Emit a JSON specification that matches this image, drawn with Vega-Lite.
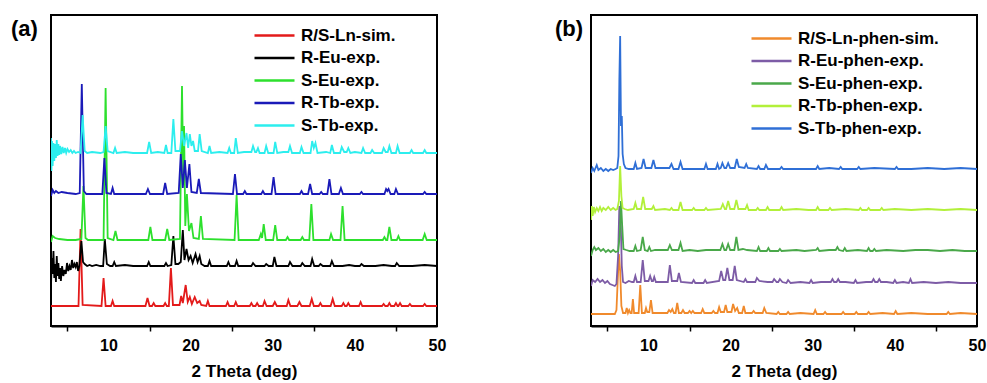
{
"$schema": "https://vega.github.io/schema/vega-lite/v6.json",
"padding": {"left": 10, "top": 14, "right": 0, "bottom": 0},
"background": "white",
"config": {
  "font": "Liberation Sans",
  "view": {"stroke": "black", "strokeWidth": 2},
  "axis": {"grid": false, "labelFont": "Liberation Sans", "labelFontWeight": "bold", "labelFontSize": 16, "labelColor": "black", "titleFont": "Liberation Sans", "titleFontSize": 17, "titleFontWeight": "bold", "titleColor": "black", "tickColor": "black", "tickWidth": 1.5, "tickSize": 5, "domainColor": "black", "domainWidth": 2},
  "legend": {"labelFont": "Liberation Sans", "labelFontSize": 17, "labelFontWeight": "bold", "labelColor": "black", "symbolType": "stroke", "symbolSize": 1600, "symbolStrokeWidth": 2.5, "labelOffset": 5, "rowPadding": 4.5, "clipHeight": 17},
  "title": {"font": "Liberation Sans", "fontSize": 22, "fontWeight": "bold", "color": "black"}
},
"datasets": {
"a1": [{"x":3,"y":20},{"x":6.35,"y":20},{"x":6.6,"y":97},{"x":6.85,"y":21},{"x":9.15,"y":20},{"x":9.4,"y":48},{"x":9.65,"y":20},{"x":10.3,"y":20},{"x":10.5,"y":25},{"x":10.7,"y":20},{"x":14.5,"y":20},{"x":14.75,"y":28},{"x":15,"y":20},{"x":15.3,"y":20},{"x":15.5,"y":23},{"x":15.7,"y":20},{"x":16.7,"y":20},{"x":16.9,"y":23},{"x":17.1,"y":20},{"x":17.35,"y":20},{"x":17.6,"y":58},{"x":17.85,"y":21},{"x":18.65,"y":21},{"x":18.85,"y":30},{"x":19.05,"y":23},{"x":19.4,"y":41},{"x":19.65,"y":24},{"x":19.9,"y":29},{"x":20.15,"y":22},{"x":20.5,"y":29},{"x":20.8,"y":23},{"x":21.1,"y":25},{"x":21.3,"y":21},{"x":21.9,"y":20},{"x":22.1,"y":25},{"x":22.3,"y":20},{"x":24.3,"y":20},{"x":24.5,"y":24},{"x":24.7,"y":20},{"x":25.3,"y":20},{"x":25.5,"y":24},{"x":25.7,"y":20},{"x":27.2,"y":20},{"x":27.4,"y":23},{"x":27.6,"y":20},{"x":27.9,"y":20},{"x":28.1,"y":23},{"x":28.3,"y":20},{"x":28.8,"y":20},{"x":29,"y":25},{"x":29.25,"y":20},{"x":30,"y":20},{"x":30.25,"y":24},{"x":30.5,"y":20},{"x":31.7,"y":20},{"x":31.9,"y":26},{"x":32.15,"y":20},{"x":33,"y":20},{"x":33.25,"y":24},{"x":33.5,"y":20},{"x":34.5,"y":20},{"x":34.75,"y":27},{"x":35,"y":20},{"x":35.6,"y":20},{"x":35.8,"y":23},{"x":36,"y":20},{"x":37.05,"y":20},{"x":37.3,"y":27},{"x":37.55,"y":20},{"x":38.4,"y":20},{"x":38.6,"y":23},{"x":38.8,"y":20},{"x":39,"y":20},{"x":39.2,"y":23},{"x":39.4,"y":20},{"x":40.5,"y":20},{"x":40.7,"y":24},{"x":40.9,"y":20},{"x":43.3,"y":20},{"x":43.5,"y":22},{"x":43.7,"y":20},{"x":44,"y":20},{"x":44.2,"y":23},{"x":44.4,"y":20},{"x":44.8,"y":20},{"x":45,"y":23},{"x":45.2,"y":20},{"x":45.3,"y":20},{"x":45.5,"y":23},{"x":45.7,"y":20},{"x":46.5,"y":20},{"x":46.7,"y":22},{"x":46.9,"y":20},{"x":48.3,"y":20},{"x":48.5,"y":22},{"x":48.7,"y":20},{"x":50,"y":20}],
"a2": [{"x":3,"y":40},{"x":3.1,"y":68},{"x":3.2,"y":52},{"x":3.3,"y":75},{"x":3.4,"y":48},{"x":3.5,"y":62},{"x":3.6,"y":44},{"x":3.7,"y":70},{"x":3.8,"y":50},{"x":3.9,"y":63},{"x":4,"y":47},{"x":4.1,"y":58},{"x":4.2,"y":45},{"x":4.35,"y":60},{"x":4.5,"y":50},{"x":4.65,"y":56},{"x":4.8,"y":52},{"x":4.95,"y":63},{"x":5.1,"y":55},{"x":5.25,"y":60},{"x":5.4,"y":56},{"x":5.55,"y":66},{"x":5.7,"y":58},{"x":5.85,"y":62},{"x":6,"y":59},{"x":6.15,"y":64},{"x":6.3,"y":55},{"x":6.45,"y":60},{"x":6.7,"y":85},{"x":6.9,"y":64},{"x":7.1,"y":62},{"x":7.4,"y":60},{"x":7.7,"y":61},{"x":8,"y":60},{"x":8.5,"y":61},{"x":9,"y":60},{"x":9.35,"y":60},{"x":9.55,"y":87},{"x":9.8,"y":62},{"x":10.2,"y":60},{"x":10.5,"y":60},{"x":10.7,"y":64},{"x":10.9,"y":60},{"x":12,"y":61},{"x":13,"y":60},{"x":14,"y":60},{"x":14.7,"y":60},{"x":14.9,"y":64},{"x":15.1,"y":60},{"x":16,"y":60},{"x":16.8,"y":60},{"x":17,"y":63},{"x":17.2,"y":60},{"x":17.65,"y":61},{"x":17.9,"y":90},{"x":18.15,"y":62},{"x":18.5,"y":62},{"x":18.8,"y":64},{"x":19.05,"y":96},{"x":19.25,"y":66},{"x":19.5,"y":77},{"x":19.75,"y":66},{"x":20,"y":70},{"x":20.25,"y":63},{"x":20.6,"y":72},{"x":20.85,"y":64},{"x":21.1,"y":70},{"x":21.3,"y":62},{"x":21.7,"y":60},{"x":22.1,"y":60},{"x":22.3,"y":65},{"x":22.5,"y":60},{"x":23.5,"y":60},{"x":24.4,"y":60},{"x":24.6,"y":64},{"x":24.8,"y":60},{"x":25.4,"y":60},{"x":25.6,"y":65},{"x":25.8,"y":60},{"x":26.5,"y":60},{"x":27.4,"y":60},{"x":27.6,"y":63},{"x":27.9,"y":60},{"x":28.5,"y":60},{"x":29,"y":60},{"x":29.2,"y":62},{"x":29.5,"y":60},{"x":30,"y":60},{"x":30.2,"y":69},{"x":30.45,"y":60},{"x":31,"y":60},{"x":31.9,"y":60},{"x":32.1,"y":64},{"x":32.4,"y":60},{"x":33.4,"y":60},{"x":33.6,"y":63},{"x":33.9,"y":60},{"x":34.6,"y":60},{"x":34.8,"y":67},{"x":35.05,"y":60},{"x":35.6,"y":60},{"x":35.8,"y":62},{"x":36.1,"y":60},{"x":37,"y":60},{"x":37.2,"y":65},{"x":37.45,"y":60},{"x":38.5,"y":60},{"x":39.3,"y":61},{"x":40,"y":60},{"x":40.6,"y":60},{"x":40.8,"y":62},{"x":41.1,"y":60},{"x":42.5,"y":60},{"x":43.5,"y":61},{"x":44.5,"y":60},{"x":44.9,"y":60},{"x":45.1,"y":63},{"x":45.4,"y":60},{"x":47,"y":60},{"x":48.5,"y":61},{"x":50,"y":60}],
"a3": [{"x":3,"y":84},{"x":3.2,"y":90},{"x":3.5,"y":88},{"x":4,"y":87},{"x":5,"y":86},{"x":6,"y":86},{"x":6.7,"y":87},{"x":6.95,"y":140},{"x":7.2,"y":88},{"x":7.5,"y":86},{"x":9.4,"y":86},{"x":9.65,"y":238},{"x":9.9,"y":88},{"x":10.6,"y":86},{"x":10.85,"y":95},{"x":11.1,"y":86},{"x":14.85,"y":86},{"x":15.1,"y":99},{"x":15.35,"y":86},{"x":16.9,"y":86},{"x":17.15,"y":97},{"x":17.4,"y":86},{"x":18.7,"y":87},{"x":18.95,"y":240},{"x":19.1,"y":150},{"x":19.2,"y":200},{"x":19.35,"y":100},{"x":19.55,"y":132},{"x":19.8,"y":95},{"x":20.1,"y":103},{"x":20.35,"y":88},{"x":21,"y":87},{"x":21.25,"y":110},{"x":21.5,"y":87},{"x":25.35,"y":86},{"x":25.6,"y":131},{"x":25.85,"y":86},{"x":28.3,"y":86},{"x":28.55,"y":92},{"x":28.7,"y":88},{"x":28.9,"y":102},{"x":29.15,"y":86},{"x":30.05,"y":86},{"x":30.3,"y":101},{"x":30.55,"y":86},{"x":31.6,"y":86},{"x":31.8,"y":89},{"x":32,"y":86},{"x":33.4,"y":86},{"x":33.6,"y":89},{"x":33.8,"y":86},{"x":34.45,"y":86},{"x":34.7,"y":122},{"x":34.95,"y":86},{"x":36.9,"y":86},{"x":37.1,"y":92},{"x":37.35,"y":86},{"x":38.25,"y":86},{"x":38.5,"y":120},{"x":38.75,"y":86},{"x":43.4,"y":86},{"x":43.6,"y":89},{"x":43.8,"y":86},{"x":43.95,"y":86},{"x":44.2,"y":99},{"x":44.45,"y":86},{"x":45.1,"y":86},{"x":45.3,"y":90},{"x":45.5,"y":86},{"x":48.25,"y":86},{"x":48.5,"y":92},{"x":48.75,"y":86},{"x":50,"y":86}],
"a4": [{"x":3,"y":130},{"x":3.2,"y":136},{"x":3.4,"y":133},{"x":3.6,"y":135},{"x":3.9,"y":133},{"x":4.3,"y":134},{"x":5,"y":133},{"x":6,"y":132},{"x":6.5,"y":133},{"x":6.75,"y":242},{"x":7,"y":135},{"x":7.3,"y":132},{"x":9.25,"y":132},{"x":9.5,"y":168},{"x":9.75,"y":133},{"x":10.3,"y":132},{"x":10.5,"y":138},{"x":10.7,"y":132},{"x":14.55,"y":132},{"x":14.8,"y":137},{"x":15.05,"y":132},{"x":16.65,"y":132},{"x":16.9,"y":143},{"x":17.15,"y":132},{"x":18.55,"y":133},{"x":18.8,"y":172},{"x":19.05,"y":138},{"x":19.3,"y":166},{"x":19.55,"y":138},{"x":19.85,"y":162},{"x":20.1,"y":134},{"x":20.75,"y":133},{"x":21,"y":147},{"x":21.25,"y":133},{"x":25.15,"y":132},{"x":25.4,"y":152},{"x":25.65,"y":132},{"x":26.4,"y":132},{"x":26.6,"y":135},{"x":26.8,"y":132},{"x":28.6,"y":132},{"x":28.8,"y":135},{"x":29,"y":132},{"x":29.85,"y":132},{"x":30.1,"y":149},{"x":30.35,"y":132},{"x":33.3,"y":132},{"x":33.5,"y":135},{"x":33.7,"y":132},{"x":34.3,"y":132},{"x":34.55,"y":142},{"x":34.8,"y":132},{"x":35.7,"y":132},{"x":35.9,"y":134},{"x":36.1,"y":132},{"x":36.65,"y":132},{"x":36.9,"y":147},{"x":37.15,"y":132},{"x":38.05,"y":132},{"x":38.3,"y":138},{"x":38.55,"y":132},{"x":40.6,"y":132},{"x":40.8,"y":134},{"x":41,"y":132},{"x":43.6,"y":132},{"x":43.8,"y":137},{"x":43.95,"y":135},{"x":44.1,"y":137},{"x":44.35,"y":132},{"x":44.8,"y":132},{"x":45,"y":137},{"x":45.25,"y":132},{"x":48.3,"y":132},{"x":48.5,"y":134},{"x":48.7,"y":132},{"x":50,"y":132}],
"a5": [{"x":3,"y":188},{"x":3.05,"y":155},{"x":3.12,"y":185},{"x":3.2,"y":160},{"x":3.3,"y":183},{"x":3.4,"y":165},{"x":3.5,"y":182},{"x":3.6,"y":168},{"x":3.7,"y":186},{"x":3.8,"y":170},{"x":3.9,"y":182},{"x":4,"y":171},{"x":4.1,"y":180},{"x":4.25,"y":172},{"x":4.4,"y":179},{"x":4.55,"y":173},{"x":4.7,"y":178},{"x":4.85,"y":173},{"x":5,"y":177},{"x":5.2,"y":174},{"x":5.4,"y":176},{"x":5.6,"y":173},{"x":5.8,"y":175},{"x":6,"y":173},{"x":6.3,"y":174},{"x":6.6,"y":173},{"x":6.85,"y":211},{"x":7.1,"y":175},{"x":7.4,"y":173},{"x":8,"y":174},{"x":9,"y":173},{"x":9.4,"y":174},{"x":9.65,"y":200},{"x":9.9,"y":175},{"x":10.6,"y":173},{"x":10.8,"y":178},{"x":11,"y":173},{"x":12,"y":174},{"x":13,"y":173},{"x":14.7,"y":173},{"x":14.95,"y":184},{"x":15.2,"y":173},{"x":16,"y":174},{"x":16.8,"y":173},{"x":17,"y":181},{"x":17.2,"y":173},{"x":17.65,"y":173},{"x":17.9,"y":207},{"x":18.15,"y":175},{"x":18.7,"y":175},{"x":18.95,"y":195},{"x":19.2,"y":180},{"x":19.5,"y":193},{"x":19.7,"y":178},{"x":19.9,"y":192},{"x":20.1,"y":180},{"x":20.3,"y":185},{"x":20.5,"y":175},{"x":20.9,"y":175},{"x":21.1,"y":192},{"x":21.35,"y":175},{"x":22.1,"y":173},{"x":22.3,"y":180},{"x":22.5,"y":173},{"x":23.5,"y":174},{"x":24.5,"y":173},{"x":24.7,"y":178},{"x":24.9,"y":173},{"x":25.3,"y":173},{"x":25.5,"y":188},{"x":25.75,"y":173},{"x":26.5,"y":174},{"x":27.4,"y":174},{"x":27.6,"y":180},{"x":27.85,"y":174},{"x":28,"y":174},{"x":28.2,"y":178},{"x":28.4,"y":173},{"x":29,"y":173},{"x":29.2,"y":180},{"x":29.45,"y":173},{"x":30.1,"y":173},{"x":30.3,"y":184},{"x":30.55,"y":173},{"x":31.3,"y":174},{"x":31.9,"y":174},{"x":32.1,"y":180},{"x":32.35,"y":173},{"x":33.3,"y":173},{"x":33.5,"y":179},{"x":33.75,"y":173},{"x":34.6,"y":173},{"x":34.8,"y":185},{"x":35,"y":178},{"x":35.2,"y":183},{"x":35.45,"y":173},{"x":36.5,"y":174},{"x":37,"y":173},{"x":37.2,"y":181},{"x":37.45,"y":173},{"x":38.2,"y":173},{"x":38.4,"y":179},{"x":38.7,"y":174},{"x":39,"y":174},{"x":39.2,"y":178},{"x":39.45,"y":173},{"x":40,"y":174},{"x":40.8,"y":173},{"x":41,"y":178},{"x":41.25,"y":173},{"x":41.9,"y":173},{"x":42.1,"y":176},{"x":42.35,"y":173},{"x":43.3,"y":173},{"x":43.5,"y":178},{"x":43.75,"y":174},{"x":44,"y":174},{"x":44.2,"y":180},{"x":44.45,"y":173},{"x":45,"y":173},{"x":45.2,"y":180},{"x":45.45,"y":173},{"x":46.7,"y":173},{"x":46.9,"y":176},{"x":47.1,"y":173},{"x":48.3,"y":173},{"x":48.5,"y":176},{"x":48.7,"y":173},{"x":50,"y":173}],
"b1": [{"x":3,"y":12},{"x":5.9,"y":12},{"x":6.1,"y":16},{"x":6.25,"y":45},{"x":6.4,"y":72},{"x":6.55,"y":55},{"x":6.7,"y":20},{"x":6.9,"y":13},{"x":7.2,"y":13},{"x":7.35,"y":18},{"x":7.5,"y":13},{"x":7.65,"y":16},{"x":7.8,"y":13},{"x":7.95,"y":13},{"x":8.1,"y":27},{"x":8.25,"y":13},{"x":8.8,"y":13},{"x":9,"y":41},{"x":9.2,"y":13},{"x":9.55,"y":13},{"x":9.7,"y":18},{"x":9.85,"y":14},{"x":10.1,"y":14},{"x":10.3,"y":26},{"x":10.5,"y":13},{"x":12.3,"y":13},{"x":12.5,"y":16},{"x":12.7,"y":14},{"x":12.9,"y":17},{"x":13.1,"y":13},{"x":13.3,"y":13},{"x":13.5,"y":23},{"x":13.7,"y":13},{"x":14,"y":13},{"x":14.2,"y":16},{"x":14.4,"y":13},{"x":14.8,"y":13},{"x":15,"y":15},{"x":15.2,"y":13},{"x":15.4,"y":15},{"x":15.6,"y":13},{"x":16.4,"y":13},{"x":16.6,"y":17},{"x":16.8,"y":13},{"x":17.7,"y":13},{"x":17.9,"y":15},{"x":18.1,"y":13},{"x":18.4,"y":13},{"x":18.6,"y":19},{"x":18.8,"y":14},{"x":19.2,"y":14},{"x":19.4,"y":21},{"x":19.6,"y":14},{"x":20.1,"y":14},{"x":20.3,"y":22},{"x":20.55,"y":15},{"x":20.8,"y":18},{"x":21,"y":13},{"x":21.4,"y":13},{"x":21.6,"y":20},{"x":21.8,"y":13},{"x":22.6,"y":13},{"x":22.8,"y":15},{"x":23,"y":13},{"x":23.9,"y":13},{"x":24.1,"y":18},{"x":24.35,"y":13},{"x":25.6,"y":12},{"x":25.8,"y":14},{"x":26,"y":12},{"x":26.8,"y":12},{"x":27,"y":14},{"x":27.2,"y":12},{"x":28.5,"y":13},{"x":30.1,"y":12},{"x":30.3,"y":16},{"x":30.5,"y":12},{"x":31.3,"y":12},{"x":31.5,"y":14},{"x":31.7,"y":12},{"x":33.5,"y":12},{"x":33.7,"y":14},{"x":33.9,"y":12},{"x":35.1,"y":12},{"x":35.3,"y":14},{"x":35.5,"y":12},{"x":36.6,"y":12},{"x":36.8,"y":14},{"x":37,"y":12},{"x":38.5,"y":13},{"x":39.9,"y":12},{"x":40.1,"y":15},{"x":40.3,"y":12},{"x":42,"y":13},{"x":44,"y":12},{"x":46.3,"y":12},{"x":46.5,"y":14},{"x":46.7,"y":12},{"x":48,"y":13},{"x":50,"y":12}],
"b2": [{"x":3,"y":40},{"x":3.2,"y":46},{"x":3.5,"y":44},{"x":3.8,"y":47},{"x":4.1,"y":44},{"x":4.4,"y":46},{"x":4.7,"y":43},{"x":5,"y":45},{"x":5.3,"y":42},{"x":5.6,"y":41},{"x":5.9,"y":40},{"x":6.1,"y":42},{"x":6.3,"y":70},{"x":6.45,"y":120},{"x":6.6,"y":110},{"x":6.75,"y":60},{"x":6.9,"y":44},{"x":7.2,"y":43},{"x":7.6,"y":45},{"x":8,"y":44},{"x":8.2,"y":44},{"x":8.4,"y":50},{"x":8.6,"y":44},{"x":9.05,"y":44},{"x":9.3,"y":66},{"x":9.55,"y":45},{"x":10,"y":45},{"x":10.2,"y":50},{"x":10.4,"y":45},{"x":10.55,"y":45},{"x":10.7,"y":49},{"x":10.9,"y":44},{"x":12.35,"y":44},{"x":12.6,"y":61},{"x":12.85,"y":45},{"x":13.5,"y":45},{"x":13.7,"y":53},{"x":13.95,"y":44},{"x":15.3,"y":43},{"x":15.5,"y":46},{"x":15.7,"y":43},{"x":16.7,"y":43},{"x":16.9,"y":46},{"x":17.1,"y":43},{"x":18.6,"y":45},{"x":18.85,"y":55},{"x":19.1,"y":46},{"x":19.35,"y":46},{"x":19.6,"y":58},{"x":19.85,"y":46},{"x":20.25,"y":46},{"x":20.5,"y":60},{"x":20.75,"y":46},{"x":21.6,"y":44},{"x":21.8,"y":47},{"x":22,"y":44},{"x":23,"y":44},{"x":23.2,"y":48},{"x":23.5,"y":45},{"x":24.5,"y":44},{"x":25.1,"y":44},{"x":25.3,"y":47},{"x":25.6,"y":44},{"x":25.8,"y":44},{"x":26,"y":47},{"x":26.3,"y":44},{"x":26.8,"y":43},{"x":27,"y":46},{"x":27.3,"y":43},{"x":28.5,"y":44},{"x":29.6,"y":43},{"x":29.8,"y":46},{"x":30,"y":43},{"x":31,"y":44},{"x":32.2,"y":44},{"x":32.4,"y":47},{"x":32.6,"y":44},{"x":32.9,"y":44},{"x":33.1,"y":47},{"x":33.3,"y":44},{"x":34,"y":44},{"x":35,"y":43},{"x":35.2,"y":46},{"x":35.4,"y":43},{"x":36.5,"y":44},{"x":37.2,"y":44},{"x":37.4,"y":47},{"x":37.6,"y":44},{"x":37.9,"y":44},{"x":38.1,"y":47},{"x":38.3,"y":44},{"x":39,"y":44},{"x":39.8,"y":43},{"x":40,"y":46},{"x":40.2,"y":43},{"x":41,"y":44},{"x":41.7,"y":43},{"x":41.9,"y":47},{"x":42.1,"y":43},{"x":43.5,"y":44},{"x":45,"y":43},{"x":46.5,"y":44},{"x":48,"y":43},{"x":50,"y":43}],
"b3": [{"x":3,"y":70},{"x":3.2,"y":76},{"x":3.4,"y":79},{"x":3.6,"y":76},{"x":3.9,"y":78},{"x":4.2,"y":75},{"x":4.5,"y":77},{"x":4.8,"y":74},{"x":5.1,"y":76},{"x":5.4,"y":74},{"x":5.7,"y":76},{"x":6,"y":74},{"x":6.3,"y":75},{"x":6.5,"y":90},{"x":6.65,"y":125},{"x":6.8,"y":100},{"x":6.95,"y":77},{"x":7.3,"y":76},{"x":7.7,"y":75},{"x":8.2,"y":75},{"x":8.4,"y":80},{"x":8.6,"y":75},{"x":9.05,"y":76},{"x":9.3,"y":89},{"x":9.55,"y":76},{"x":9.9,"y":75},{"x":10.1,"y":79},{"x":10.3,"y":75},{"x":10.8,"y":76},{"x":12.35,"y":76},{"x":12.6,"y":81},{"x":12.85,"y":76},{"x":13.65,"y":76},{"x":13.9,"y":83},{"x":14.15,"y":75},{"x":15,"y":76},{"x":16,"y":75},{"x":17,"y":76},{"x":18.75,"y":76},{"x":19,"y":82},{"x":19.25,"y":76},{"x":19.45,"y":76},{"x":19.7,"y":82},{"x":19.95,"y":76},{"x":20.45,"y":76},{"x":20.7,"y":89},{"x":20.95,"y":76},{"x":21.5,"y":77},{"x":22,"y":76},{"x":23.2,"y":75},{"x":23.4,"y":79},{"x":23.6,"y":75},{"x":24.4,"y":75},{"x":24.6,"y":78},{"x":24.8,"y":75},{"x":25.8,"y":75},{"x":26,"y":77},{"x":26.2,"y":75},{"x":28,"y":76},{"x":29,"y":75},{"x":30.4,"y":76},{"x":30.6,"y":78},{"x":30.8,"y":75},{"x":32,"y":76},{"x":32.8,"y":76},{"x":33,"y":79},{"x":33.2,"y":76},{"x":33.7,"y":75},{"x":33.9,"y":78},{"x":34.1,"y":75},{"x":35.5,"y":76},{"x":36.6,"y":75},{"x":36.8,"y":78},{"x":37,"y":75},{"x":37.3,"y":75},{"x":37.5,"y":77},{"x":37.7,"y":75},{"x":39,"y":76},{"x":41,"y":75},{"x":42.5,"y":76},{"x":44,"y":76},{"x":45.5,"y":75},{"x":47,"y":76},{"x":48.5,"y":75},{"x":50,"y":75}],
"b4": [{"x":3,"y":106},{"x":3.1,"y":120},{"x":3.2,"y":110},{"x":3.35,"y":119},{"x":3.5,"y":114},{"x":3.7,"y":118},{"x":3.9,"y":115},{"x":4.1,"y":119},{"x":4.3,"y":115},{"x":4.5,"y":118},{"x":4.8,"y":116},{"x":5.1,"y":119},{"x":5.4,"y":116},{"x":5.7,"y":118},{"x":6,"y":116},{"x":6.2,"y":117},{"x":6.4,"y":125},{"x":6.55,"y":160},{"x":6.7,"y":130},{"x":6.85,"y":118},{"x":7.1,"y":117},{"x":7.5,"y":116},{"x":8.2,"y":117},{"x":8.4,"y":123},{"x":8.6,"y":117},{"x":9.1,"y":117},{"x":9.35,"y":129},{"x":9.6,"y":117},{"x":10.4,"y":117},{"x":10.6,"y":120},{"x":10.8,"y":116},{"x":12,"y":117},{"x":12.6,"y":116},{"x":12.8,"y":118},{"x":13,"y":116},{"x":13.65,"y":116},{"x":13.9,"y":124},{"x":14.15,"y":116},{"x":15.3,"y":116},{"x":15.5,"y":118},{"x":15.7,"y":116},{"x":16.8,"y":116},{"x":17,"y":118},{"x":17.2,"y":116},{"x":18.8,"y":117},{"x":19.05,"y":122},{"x":19.3,"y":117},{"x":19.45,"y":117},{"x":19.7,"y":125},{"x":19.95,"y":117},{"x":20.45,"y":117},{"x":20.7,"y":126},{"x":20.95,"y":117},{"x":21.8,"y":117},{"x":22,"y":121},{"x":22.2,"y":116},{"x":23.1,"y":116},{"x":23.3,"y":118},{"x":23.5,"y":116},{"x":24.3,"y":116},{"x":24.5,"y":119},{"x":24.7,"y":116},{"x":26,"y":116},{"x":26.2,"y":119},{"x":26.4,"y":116},{"x":28,"y":117},{"x":29.5,"y":116},{"x":30.4,"y":116},{"x":30.6,"y":119},{"x":30.8,"y":116},{"x":31.9,"y":116},{"x":32.1,"y":118},{"x":32.3,"y":116},{"x":34,"y":117},{"x":35.6,"y":116},{"x":35.8,"y":118},{"x":36,"y":116},{"x":36.6,"y":116},{"x":36.8,"y":118},{"x":37,"y":116},{"x":38.2,"y":116},{"x":38.4,"y":118},{"x":38.6,"y":116},{"x":40,"y":117},{"x":42,"y":116},{"x":44,"y":117},{"x":46,"y":116},{"x":48,"y":117},{"x":50,"y":116}],
"b5": [{"x":3,"y":153},{"x":3.2,"y":158},{"x":3.4,"y":155},{"x":3.7,"y":161},{"x":3.9,"y":156},{"x":4.2,"y":158},{"x":4.5,"y":155},{"x":4.8,"y":157},{"x":5.1,"y":155},{"x":5.4,"y":157},{"x":5.7,"y":156},{"x":6,"y":157},{"x":6.2,"y":158},{"x":6.35,"y":170},{"x":6.45,"y":245},{"x":6.55,"y":290},{"x":6.65,"y":200},{"x":6.75,"y":210},{"x":6.85,"y":172},{"x":7,"y":162},{"x":7.2,"y":158},{"x":7.6,"y":157},{"x":8.2,"y":157},{"x":8.4,"y":163},{"x":8.6,"y":157},{"x":9.15,"y":158},{"x":9.4,"y":167},{"x":9.65,"y":158},{"x":10.35,"y":158},{"x":10.6,"y":166},{"x":10.85,"y":158},{"x":12.55,"y":158},{"x":12.8,"y":162},{"x":13.05,"y":157},{"x":13.65,"y":157},{"x":13.9,"y":164},{"x":14.15,"y":157},{"x":15,"y":157},{"x":16.8,"y":157},{"x":17,"y":162},{"x":17.2,"y":157},{"x":18.2,"y":157},{"x":18.4,"y":162},{"x":18.6,"y":157},{"x":18.8,"y":158},{"x":19,"y":163},{"x":19.25,"y":158},{"x":19.45,"y":158},{"x":19.7,"y":163},{"x":19.95,"y":158},{"x":20.5,"y":158},{"x":20.75,"y":167},{"x":21,"y":159},{"x":21.7,"y":158},{"x":21.9,"y":162},{"x":22.1,"y":158},{"x":23.2,"y":157},{"x":23.4,"y":160},{"x":23.6,"y":157},{"x":24.1,"y":157},{"x":24.3,"y":161},{"x":24.55,"y":157},{"x":26,"y":157},{"x":26.2,"y":159},{"x":26.4,"y":157},{"x":28,"y":157},{"x":30.4,"y":157},{"x":30.6,"y":160},{"x":30.8,"y":157},{"x":32,"y":158},{"x":33.2,"y":157},{"x":33.4,"y":159},{"x":33.6,"y":157},{"x":35.4,"y":157},{"x":35.6,"y":159},{"x":35.8,"y":157},{"x":37.5,"y":158},{"x":40,"y":157},{"x":40.2,"y":159},{"x":40.4,"y":157},{"x":42,"y":157},{"x":44,"y":158},{"x":46,"y":157},{"x":48,"y":158},{"x":50,"y":157}]
},
"spacing": 107,
"resolve": {"scale": {"color": "independent"}, "legend": {"color": "independent"}},
"hconcat": [
{
  "width": 386, "height": 311,
  "title": {"text": "(a)", "anchor": "start", "frame": "group", "dx": -40, "baseline": "top", "offset": -23, "dy": 3},
  "encoding": {
    "x": {"field": "x", "type": "quantitative", "scale": {"domain": [3, 50], "nice": false, "zero": false}, "axis": {"title": "2 Theta (deg)", "values": [5,10,15,20,25,30,35,40,45,50], "labelExpr": "datum.value % 10 === 0 ? datum.label : ''", "tickOpacity": {"condition": {"test": "datum.value % 10 === 0", "value": 0}, "value": 1}, "labelPadding": 6, "titlePadding": 10, "labelOverlap": false, "labelFlush": false}},
    "y": {"field": "y", "type": "quantitative", "scale": {"domain": [0, 311], "nice": false, "zero": false}, "axis": null}
  },
  "layer": [
    {"data": {"name": "a1"}, "mark": {"type": "line", "strokeWidth": 1.8, "clip": true}, "encoding": {"color": {"datum": "R/S-Ln-sim.", "scale": {"domain": ["R/S-Ln-sim.", "R-Eu-exp.", "S-Eu-exp.", "R-Tb-exp.", "S-Tb-exp."], "range": ["#e31a1a", "#000000", "#2de02d", "#1a1ab8", "#2ceeee"]}, "legend": {"title": null, "orient": "none", "legendX": 202, "legendY": 12}}}},
    {"data": {"name": "a2"}, "mark": {"type": "line", "strokeWidth": 1.8, "clip": true}, "encoding": {"color": {"datum": "R-Eu-exp."}}},
    {"data": {"name": "a3"}, "mark": {"type": "line", "strokeWidth": 1.8, "clip": true}, "encoding": {"color": {"datum": "S-Eu-exp."}}},
    {"data": {"name": "a4"}, "mark": {"type": "line", "strokeWidth": 1.8, "clip": true}, "encoding": {"color": {"datum": "R-Tb-exp."}}},
    {"data": {"name": "a5"}, "mark": {"type": "line", "strokeWidth": 1.8, "clip": true}, "encoding": {"color": {"datum": "S-Tb-exp."}}}
  ]
},
{
  "width": 386, "height": 311,
  "title": {"text": "(b)", "anchor": "start", "frame": "group", "dx": -36, "baseline": "top", "offset": -23, "dy": 3},
  "encoding": {
    "x": {"field": "x", "type": "quantitative", "scale": {"domain": [3, 50], "nice": false, "zero": false}, "axis": {"title": "2 Theta (deg)", "values": [5,10,15,20,25,30,35,40,45,50], "labelExpr": "datum.value % 10 === 0 ? datum.label : ''", "tickOpacity": {"condition": {"test": "datum.value % 10 === 0", "value": 0}, "value": 1}, "labelPadding": 6, "titlePadding": 10, "labelOverlap": false, "labelFlush": false}},
    "y": {"field": "y", "type": "quantitative", "scale": {"domain": [0, 311], "nice": false, "zero": false}, "axis": null}
  },
  "layer": [
    {"data": {"name": "b1"}, "mark": {"type": "line", "strokeWidth": 1.8, "clip": true}, "encoding": {"color": {"datum": "R/S-Ln-phen-sim.", "scale": {"domain": ["R/S-Ln-phen-sim.", "R-Eu-phen-exp.", "S-Eu-phen-exp.", "R-Tb-phen-exp.", "S-Tb-phen-exp."], "range": ["#f08a2c", "#7d5ca6", "#4aa84a", "#b2f03a", "#2f6fd6"]}, "legend": {"title": null, "orient": "none", "legendX": 159, "legendY": 15}}}},
    {"data": {"name": "b2"}, "mark": {"type": "line", "strokeWidth": 1.8, "clip": true}, "encoding": {"color": {"datum": "R-Eu-phen-exp."}}},
    {"data": {"name": "b3"}, "mark": {"type": "line", "strokeWidth": 1.8, "clip": true}, "encoding": {"color": {"datum": "S-Eu-phen-exp."}}},
    {"data": {"name": "b4"}, "mark": {"type": "line", "strokeWidth": 1.8, "clip": true}, "encoding": {"color": {"datum": "R-Tb-phen-exp."}}},
    {"data": {"name": "b5"}, "mark": {"type": "line", "strokeWidth": 1.8, "clip": true}, "encoding": {"color": {"datum": "S-Tb-phen-exp."}}}
  ]
}
]
}
